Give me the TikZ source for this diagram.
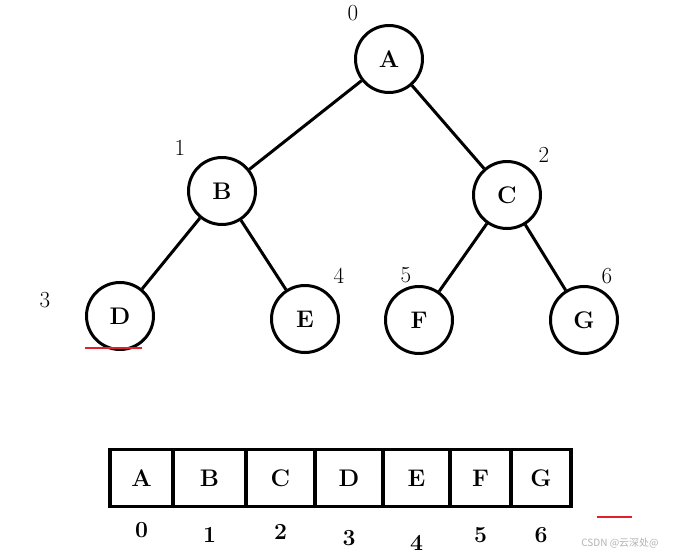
\documentclass[tikz,border=0pt]{standalone}
\usepackage{fontspec}
\newfontfamily\cjk{Noto Sans CJK SC}
\usetikzlibrary{positioning}
\definecolor{MarkRed}{HTML}{E0202A}

\begin{document}
\begin{tikzpicture}[x=1pt,y=-1pt,
    vertex/.style={draw,circle,line width=3pt,minimum size=67pt,inner sep=0pt,
      font=\fontsize{24}{28}\selectfont\bfseries},
    idx/.style={font=\fontsize{23}{27}\selectfont},
    cell/.style={draw,line width=3.2pt,minimum height=57pt,inner sep=0pt,
      font=\fontsize{24}{28}\selectfont\bfseries},
    edge/.style={line width=3pt}]
  \useasboundingbox (0,0) rectangle (675,556);
  % tree
  \node[vertex] (A) at (389,59) {A};
  \node[vertex] (B) at (222,191) {B};
  \node[vertex] (C) at (507,195) {C};
  \node[vertex] (D) at (120,316) {D};
  \node[vertex] (E) at (305,319) {E};
  \node[vertex] (F) at (419,320) {F};
  \node[vertex] (G) at (584,320) {G};
  \foreach \a/\b in {A/B,A/C,B/D,B/E,C/F,C/G}
    \draw[edge] (\a) -- (\b);
  \node[idx] (n0) at (353,13) {0};
  \node[idx] (n1) at (180,148) {1};
  \node[idx] (n2) at (544,155) {2};
  \node[idx] (n3) at (45,300) {3};
  \node[idx] (n4) at (339,276) {4};
  \node[idx] (n5) at (406,275) {5};
  \node[idx] (n6) at (607,276) {6};
  \draw[MarkRed,line width=1.8pt] (85,348) -- (142,348);
  % array
  \foreach \l/\r/\t/\i/\y in {110/173/A/0/530,173/246/B/1/535,246/315/C/2/532,
      315/383/D/3/538,383/450/E/4/543,450/511/F/5/535,511/571/G/6/535} {
    \node[cell,minimum width=\r pt-\l pt] (cell\i) at ({(\l+\r)/2},478) {\t};
    \node[idx,font=\fontsize{23}{27}\selectfont\bfseries] (pos\i) at ({(\l+\r)/2},\y) {\i};
  }
  \draw[MarkRed,line width=1.8pt] (597,517) -- (632,517);
  \node[text=black!30,font=\cjk\fontsize{10}{12}\selectfont] (mark) at (620,543) {CSDN @云深处@};
\end{tikzpicture}
\end{document}
